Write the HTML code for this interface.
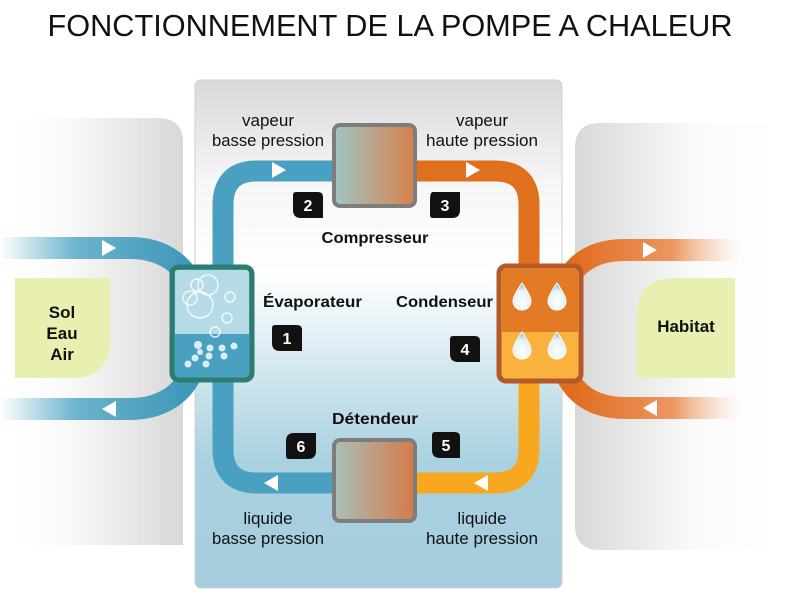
<!DOCTYPE html>
<html><head><meta charset="utf-8"><style>
html,body{margin:0;padding:0;background:#fff;}
svg{display:block;font-family:"Liberation Sans",sans-serif;}
</style></head><body>
<svg width="792" height="596" viewBox="0 0 792 596" xmlns="http://www.w3.org/2000/svg">
<defs>
<linearGradient id="center" x1="0" y1="0" x2="0" y2="1">
<stop offset="0" stop-color="#d9d9d9"/><stop offset="0.2" stop-color="#f6f6f6"/><stop offset="0.38" stop-color="#ffffff"/><stop offset="0.75" stop-color="#a9d1e0"/><stop offset="1" stop-color="#a5cddd"/></linearGradient>
<linearGradient id="lpanel" x1="0" y1="0" x2="1" y2="0">
<stop offset="0" stop-color="#fff"/><stop offset="0.3" stop-color="#fafafa"/><stop offset="1" stop-color="#d8d8d8"/></linearGradient>
<linearGradient id="rpanel" x1="0" y1="0" x2="1" y2="0">
<stop offset="0" stop-color="#d8d8d8"/><stop offset="0.6" stop-color="#fafafa"/><stop offset="1" stop-color="#fff"/></linearGradient>
<linearGradient id="blueband" x1="0" y1="0" x2="190" y2="0" gradientUnits="userSpaceOnUse">
<stop offset="0" stop-color="#4ba3c3" stop-opacity="0"/><stop offset="0.4" stop-color="#4ba3c3" stop-opacity="0.8"/><stop offset="1" stop-color="#3e98b8"/></linearGradient>
<linearGradient id="orband" x1="570" y1="0" x2="740" y2="0" gradientUnits="userSpaceOnUse">
<stop offset="0" stop-color="#e06c1e"/><stop offset="0.6" stop-color="#ec9660"/><stop offset="1" stop-color="#f6c8a8" stop-opacity="0"/></linearGradient>
<linearGradient id="box" x1="0" y1="0" x2="1" y2="0">
<stop offset="0" stop-color="#9ec6c6"/><stop offset="1" stop-color="#d8804a"/></linearGradient>
<linearGradient id="box2" x1="0" y1="0" x2="1" y2="0">
<stop offset="0" stop-color="#a8c0b8"/><stop offset="1" stop-color="#d77a48"/></linearGradient>
<radialGradient id="drop" cx="0.5" cy="0.7" r="0.6"><stop offset="0" stop-color="#fff"/><stop offset="0.7" stop-color="#e8f2f6"/><stop offset="1" stop-color="#9cc6dc"/></radialGradient>
</defs>
<text x="390" y="36" text-anchor="middle" font-size="31" fill="#111" textLength="685" lengthAdjust="spacingAndGlyphs">FONCTIONNEMENT DE LA POMPE A CHALEUR</text>

<!-- side panels -->
<path d="M15 118 H158 Q183 118 183 143 V545 H15 Z" fill="url(#lpanel)"/>
<path d="M600 123 H775 V550 H600 Q575 550 575 525 V148 Q575 123 600 123 Z" fill="url(#rpanel)"/>
<!-- center panel -->
<rect x="195" y="80" width="367" height="508" rx="6" fill="url(#center)" stroke="#d0d0d0" stroke-width="1"/>

<!-- side bands -->
<path d="M0 248 H130 C160 248 182 262 192 285" fill="none" stroke="url(#blueband)" stroke-width="22"/>
<path d="M0 409 H130 C160 409 182 395 192 372" fill="none" stroke="url(#blueband)" stroke-width="22"/>
<path d="M565 285 C575 262 595 250 625 250 H740" fill="none" stroke="url(#orband)" stroke-width="22"/>
<path d="M565 372 C575 395 595 408 625 408 H740" fill="none" stroke="url(#orband)" stroke-width="22"/>
<polygon points="102,240 102,256 116,248" fill="#fff"/>
<polygon points="116,401 116,417 102,409" fill="#fff"/>
<polygon points="643,242 643,258 657,250" fill="#fff"/>
<polygon points="657,400 657,416 643,408" fill="#fff"/>

<!-- leaves -->
<path d="M15 278 H110 V340 Q110 378 72 378 H15 Z" fill="#e9efb0"/>
<path d="M675 278 H735 V378 H637 V316 Q637 278 675 278 Z" fill="#e9efb0"/>
<text font-size="17" font-weight="bold" text-anchor="middle" fill="#111"><tspan x="62" y="318">Sol</tspan><tspan x="62" y="339">Eau</tspan><tspan x="62" y="360">Air</tspan></text>
<text x="686" y="332" font-size="17" font-weight="bold" text-anchor="middle" fill="#111">Habitat</text>

<!-- loop pipes -->
<path d="M223 270 V205 Q223 171 257 171 H335" fill="none" stroke="#4aa0c0" stroke-width="21"/>
<path d="M415 171 H495 Q529 171 529 205 V270" fill="none" stroke="#e06f1e" stroke-width="21"/>
<path d="M529 380 V449 Q529 483 495 483 H415" fill="none" stroke="#f8a81e" stroke-width="21"/>
<path d="M335 483 H257 Q223 483 223 449 V380" fill="none" stroke="#4aa0c0" stroke-width="21"/>
<polygon points="272,162 272,178 286,170" fill="#fff"/>
<polygon points="466,162 466,178 480,170" fill="#fff"/>
<polygon points="488,475 488,491 474,483" fill="#fff"/>
<polygon points="278,475 278,491 264,483" fill="#fff"/>

<!-- compressor / detendeur -->
<rect x="334" y="125" width="81" height="81" rx="6" fill="url(#box)" stroke="#7d7d7d" stroke-width="4"/>
<rect x="334" y="440" width="81" height="81" rx="6" fill="url(#box2)" stroke="#7d7d7d" stroke-width="4"/>

<!-- evaporator -->
<rect x="172" y="267" width="80" height="113" rx="7" fill="#4aa0c0" stroke="#2e7c70" stroke-width="5"/>
<path d="M175 272 Q175 270 178 270 H246 Q249 270 249 273 V334 H175 Z" fill="#b5dbe6"/>
<g fill="none" stroke="#fff" stroke-opacity="0.8" stroke-width="1.5">
<circle cx="208" cy="285" r="10"/><circle cx="200" cy="305" r="13"/><circle cx="190" cy="298" r="7"/><circle cx="230" cy="297" r="5"/><circle cx="227" cy="318" r="5"/><circle cx="215" cy="332" r="5"/><circle cx="197" cy="285" r="6"/>
</g>
<g fill="#d8eef4"><circle cx="198" cy="345" r="4"/><circle cx="210" cy="348" r="3.5"/><circle cx="222" cy="348" r="3.5"/><circle cx="234" cy="346" r="3.5"/><circle cx="195" cy="358" r="3.5"/><circle cx="209" cy="356" r="3.5"/><circle cx="224" cy="356" r="3.5"/><circle cx="188" cy="364" r="3.5"/><circle cx="206" cy="364" r="3.5"/><circle cx="200" cy="352" r="3"/></g>

<!-- condenser -->
<rect x="499" y="266" width="82" height="115" rx="7" fill="#f9b23e" stroke="#b5592a" stroke-width="5"/>
<path d="M502 272 Q502 269 505 269 H575 Q578 269 578 272 V332 H502 Z" fill="#e37a26"/>
<g fill="url(#drop)" stroke="#fff" stroke-width="1">
<path d="M522 283 Q531 296 531 301 A9 9 0 0 1 513 301 Q513 296 522 283 Z"/>
<path d="M557 283 Q566 296 566 301 A9 9 0 0 1 548 301 Q548 296 557 283 Z"/>
<path d="M522 332 Q531 345 531 350 A9 9 0 0 1 513 350 Q513 345 522 332 Z"/>
<path d="M557 332 Q566 345 566 350 A9 9 0 0 1 548 350 Q548 345 557 332 Z"/>
</g>

<!-- badges -->
<g fill="#111">
<path d="M296 192 H318 Q323 192 323 197 V218 H301 Q293 218 293 210 V195 Q293 192 296 192 Z"/>
<path d="M433 192 H460 V210 Q460 218 452 218 H433 Q430 218 430 215 V200 Q430 192 433 192 Z"/>
<path d="M275 325 H297 Q302 325 302 330 V351 H280 Q272 351 272 343 V328 Q272 325 275 325 Z"/>
<path d="M453 336 H475 Q480 336 480 341 V362 H458 Q450 362 450 354 V339 Q450 336 453 336 Z"/>
<path d="M294 433 H316 V451 Q316 459 308 459 H289 Q286 459 286 456 V441 Q286 433 294 433 Z"/>
<path d="M435 432 H455 Q460 432 460 437 V458 H440 Q432 458 432 450 V435 Q432 432 435 432 Z"/>
</g>
<g fill="#fff" font-size="16" font-weight="bold" text-anchor="middle">
<text x="308" y="211">2</text><text x="445" y="211">3</text><text x="287" y="344">1</text><text x="465" y="355">4</text><text x="301" y="452">6</text><text x="446" y="451">5</text>
</g>

<!-- labels -->
<g font-size="17" fill="#111" text-anchor="middle">
<text x="268" y="126">vapeur</text><text x="268" y="146" textLength="112" lengthAdjust="spacingAndGlyphs">basse pression</text>
<text x="482" y="126">vapeur</text><text x="482" y="146" textLength="112" lengthAdjust="spacingAndGlyphs">haute pression</text>
<text x="268" y="524">liquide</text><text x="268" y="544" textLength="112" lengthAdjust="spacingAndGlyphs">basse pression</text>
<text x="482" y="524">liquide</text><text x="482" y="544" textLength="112" lengthAdjust="spacingAndGlyphs">haute pression</text>
</g>
<g font-size="16" font-weight="bold" fill="#111">
<text x="375" y="243" text-anchor="middle" textLength="107" lengthAdjust="spacingAndGlyphs">Compresseur</text>
<text x="263" y="307" textLength="99" lengthAdjust="spacingAndGlyphs">Évaporateur</text>
<text x="396" y="307" textLength="97" lengthAdjust="spacingAndGlyphs">Condenseur</text>
<text x="375" y="424" text-anchor="middle" textLength="86" lengthAdjust="spacingAndGlyphs">Détendeur</text>
</g>
</svg>
</body></html>
